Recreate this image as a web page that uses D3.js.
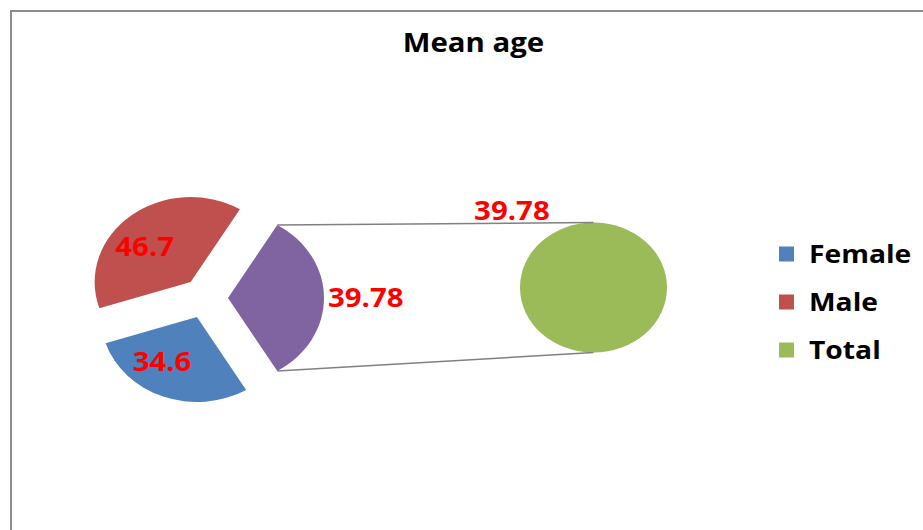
<!DOCTYPE html>
<html>
<head>
<meta charset="utf-8">
<script src="https://cdn.jsdelivr.net/npm/d3@7"></script>
<style>
  html, body { margin: 0; padding: 0; background: #fff; }
  svg { display: block; }
  text { font-family: "Open Sans", "Noto Sans", sans-serif; font-weight: 700; }
</style>
</head>
<body>
<svg id="chart" width="923" height="530"></svg>
<script>
// Mean age by group, shown as a pie-of-pie: Female and Male in the main pie,
// Total split out into the secondary pie.
const categories = ["Female", "Male", "Total"];
const values = [34.6, 46.7, 39.78];
const seriesColors = ["#4F81BD", "#C0504D", "#9BBB59"];
const otherColor = "#8064A2";        // the main-pie slice standing for the secondary pie
const secondPlot = ["Total"];         // points moved to the secondary pie
const title = "Mean age";

const W = 923, H = 530;
const squash = 0.885;                 // vertical aspect of the plot
const stretch = 1 / squash;           // matching horizontal stretch for text
const labelColor = "#FF0000";

const svg = d3.select("#chart");

// chart frame
const frame = { x: 11, y: 11, w: 925, h: 540 };
svg.append("rect")
  .attr("x", frame.x).attr("y", frame.y)
  .attr("width", frame.w).attr("height", frame.h)
  .attr("fill", "#fff").attr("stroke", "#8c8c8c").attr("stroke-width", 2);

function addText(sel, txt, x, y, opts) {
  return sel.append("text")
    .attr("transform", `translate(${x},${y}) scale(${stretch},1)`)
    .attr("text-anchor", opts.anchor || "middle")
    .attr("font-size", opts.size)
    .attr("fill", opts.fill || "#000")
    .text(txt);
}

// title
addText(svg, title, frame.x + frame.w / 2, 52, { size: 26 });

// split the data into main pie and secondary pie
const rows = categories.map((c, i) => ({ name: c, value: values[i], color: seriesColors[i] }));
const mainRows = rows.filter(r => !secondPlot.includes(r.name));
const subRows = rows.filter(r => secondPlot.includes(r.name));
const otherValue = d3.sum(subRows, r => r.value);
const mainData = [{ name: "Other", value: otherValue, color: otherColor, other: true }, ...mainRows];

// main pie geometry
const main = { cx: 205, cy: 298, r: 96, explode: 23 };
const otherShare = otherValue / d3.sum(mainData, d => d.value) * 2 * Math.PI;
const start = Math.PI / 2 - otherShare / 2;   // "Other" slice centred on the right
const pie = d3.pie().sort(null).value(d => d.value)
  .startAngle(start).endAngle(start + 2 * Math.PI);
const arcs = pie(mainData);
const arcGen = d3.arc().innerRadius(0).outerRadius(main.r);

const pt = (c, ang, dist) => [c.cx + Math.sin(ang) * dist, c.cy - Math.cos(ang) * dist * squash];

const gMain = svg.append("g")
  .attr("transform", `translate(${main.cx},${main.cy}) scale(1,${squash})`);
gMain.selectAll("path").data(arcs).join("path")
  .attr("transform", d => {
    const m = (d.startAngle + d.endAngle) / 2;
    return `translate(${Math.sin(m) * main.explode},${-Math.cos(m) * main.explode})`;
  })
  .attr("d", arcGen)
  .attr("fill", d => d.data.color);

// secondary pie
const sub = { cx: 593.5, cy: 287.5, r: 73.5 };
const subArcs = d3.pie().sort(null).value(d => d.value)(subRows);
const subArc = d3.arc().innerRadius(0).outerRadius(sub.r);
svg.append("g")
  .attr("transform", `translate(${sub.cx},${sub.cy}) scale(1,${squash})`)
  .selectAll("path").data(subArcs).join("path")
  .attr("d", subArc)
  .attr("fill", d => d.data.color);

// connector lines from the "Other" slice to the secondary pie
const oa = arcs.find(a => a.data.other);
const om = (oa.startAngle + oa.endAngle) / 2;
const apex = pt(main, om, main.explode);
const corner = ang => [apex[0] + Math.sin(ang) * main.r, apex[1] - Math.cos(ang) * main.r * squash];
const c1 = corner(oa.startAngle), c2 = corner(oa.endAngle);
const subTop = [sub.cx, sub.cy - sub.r * squash];
const subBot = [sub.cx, sub.cy + sub.r * squash];
svg.append("g").attr("stroke", "#808080").attr("stroke-width", 1.5).attr("fill", "none")
  .selectAll("line").data([[c1, subTop], [c2, subBot]]).join("line")
  .attr("x1", d => d[0][0]).attr("y1", d => d[0][1])
  .attr("x2", d => d[1][0]).attr("y2", d => d[1][1]);

// data labels: inside labels sit in the slice, pulled slightly toward the left side
const labelSize = 26;
arcs.forEach(a => {
  const m = (a.startAngle + a.endAngle) / 2;
  if (a.data.other) {
    const p = pt(main, m, main.explode + main.r + 4);
    addText(svg, String(a.data.value), p[0], p[1] + labelSize * 0.36,
      { size: labelSize, fill: labelColor, anchor: "start" });
  } else {
    const lm = m + (3 * Math.PI / 2 - m) * 0.15;
    const p = pt(main, lm, main.explode + main.r * 0.63);
    addText(svg, String(a.data.value), p[0], p[1] + labelSize * 0.36,
      { size: labelSize, fill: labelColor });
  }
});
subArcs.forEach(a => {
  const p = pt(sub, -0.755, sub.r * 1.62);
  addText(svg, String(a.data.value), p[0], p[1] + labelSize * 0.36,
    { size: labelSize, fill: labelColor });
});

// legend
const legend = { x: 779, y: 254, step: 48, box: 15, size: 25 };
const lg = svg.append("g");
rows.forEach((r, i) => {
  const y = legend.y + i * legend.step;
  lg.append("rect")
    .attr("x", legend.x).attr("y", y - legend.box / 2)
    .attr("width", legend.box).attr("height", legend.box)
    .attr("fill", r.color);
  addText(lg, r.name, legend.x + 30, y + legend.size * 0.36, { size: legend.size, anchor: "start" });
});
</script>
</body>
</html>
